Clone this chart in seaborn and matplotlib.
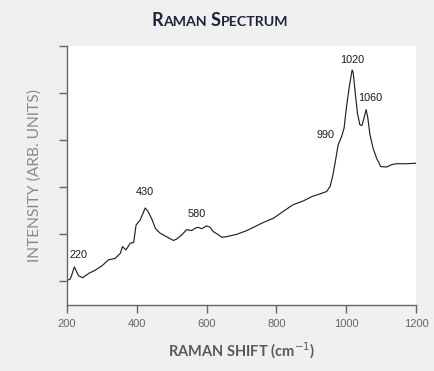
import matplotlib
matplotlib.use("Agg")
import matplotlib.pyplot as plt
import seaborn as sns
import pandas as pd
from matplotlib.offsetbox import TextArea, HPacker, AnchoredOffsetbox

# ---- data ----
raman_shift = [200, 203, 209, 212, 221, 233, 245, 262, 281, 300, 319, 338, 353, 359,
               369, 381, 391, 398, 410, 424, 432, 444, 453, 466, 485, 505, 514, 529,
               543, 557, 567, 576, 586, 600, 610, 619, 634, 643, 657, 686, 715, 743,
               753, 780, 791, 820, 848, 877, 901, 925, 944, 954, 961, 968, 977, 987,
               994, 1001, 1009, 1017, 1020, 1025, 1032, 1039, 1045, 1051, 1057, 1062,
               1068, 1077, 1087, 1099, 1116, 1130, 1144, 1173, 1200]
intensity = [0.53, 0.53, 0.55, 0.60, 0.81, 0.62, 0.58, 0.67, 0.74, 0.83, 0.96, 0.99, 1.10, 1.24,
             1.17, 1.31, 1.33, 1.70, 1.81, 2.06, 1.99, 1.81, 1.63, 1.53, 1.45, 1.37, 1.40, 1.49,
             1.60, 1.58, 1.63, 1.65, 1.62, 1.68, 1.65, 1.56, 1.49, 1.44, 1.45, 1.50, 1.58, 1.68,
             1.72, 1.81, 1.84, 1.99, 2.13, 2.21, 2.30, 2.36, 2.41, 2.52, 2.73, 3.01, 3.40, 3.58,
             3.76, 4.22, 4.64, 4.99, 4.94, 4.57, 4.08, 3.83, 3.81, 3.97, 4.15, 3.97,
             3.62, 3.33, 3.12, 2.94, 2.93, 2.98, 3.00, 3.00, 3.01]

peak_labels = ["220", "430", "580", "990", "1020", "1060"]
peak_x = [234, 422, 572, 942, 1016, 1070]
peak_y = [1.06, 2.40, 1.94, 3.62, 5.20, 4.40]

x_ticks = [200, 400, 600, 800, 1000, 1200]
y_ticks = [0.5, 1.5, 2.5, 3.5, 4.5, 5.5]

df = pd.DataFrame({"shift": raman_shift, "intensity": intensity})

sns.set_style("ticks")
plt.rcParams["font.family"] = ["Liberation Sans", "DejaVu Sans"]

fig = plt.figure(figsize=(4.35, 3.71), dpi=100, facecolor="#f0f0f0")
ax = fig.add_axes([67 / 435, 66 / 371, 349 / 435, 259 / 371])
ax.set_facecolor("white")

sns.lineplot(data=df, x="shift", y="intensity", ax=ax, color="#222222", linewidth=0.85)

for lab, px, py in zip(peak_labels, peak_x, peak_y):
    ax.text(px, py, lab, ha="center", va="center", fontsize=7.8, color="#1a1a1a")

ax.set_xlim(200, 1200)
ax.set_ylim(0, 5.5)
ax.set_xticks(x_ticks)
ax.set_xticklabels([str(t) for t in x_ticks])
ax.set_yticks(y_ticks)
ax.set_yticklabels([])
ax.tick_params(axis="both", length=6, width=1, color="#666666", labelcolor="#666666",
               labelsize=8, direction="out")
ax.tick_params(axis="x", pad=4)
for s in ["top", "right"]:
    ax.spines[s].set_visible(False)
for s in ["left", "bottom"]:
    ax.spines[s].set_color("#666666")
    ax.spines[s].set_linewidth(1)

ax.set_xlabel("RAMAN SHIFT (cm$^{-1}$)", fontsize=10.5, color="#5a5a5a",
              fontweight="bold", family=["Lato", "DejaVu Sans"], labelpad=8)
ax.set_ylabel("INTENSITY (ARB. UNITS)", fontsize=11.2, color="#8a8a8a",
              family=["Lato", "DejaVu Sans"])
ax.yaxis.set_label_coords(-0.072, 0.5)

# small-caps title
big = dict(fontsize=13, fontweight="bold", color="#1c2438", family=["Lato", "DejaVu Sans"])
small = dict(fontsize=10.2, fontweight="bold", color="#1c2438", family=["Lato", "DejaVu Sans"])
parts = [TextArea("R", textprops=big), TextArea("AMAN ", textprops=small),
         TextArea("S", textprops=big), TextArea("PECTRUM", textprops=small)]
pack = HPacker(children=parts, align="baseline", pad=0, sep=0)
title = AnchoredOffsetbox(loc="center", child=pack, pad=0, borderpad=0, frameon=False,
                          bbox_to_anchor=(220 / 435, 1 - 21 / 371),
                          bbox_transform=fig.transFigure)
fig.add_artist(title)

fig.savefig("out.png", dpi=100, facecolor=fig.get_facecolor())
